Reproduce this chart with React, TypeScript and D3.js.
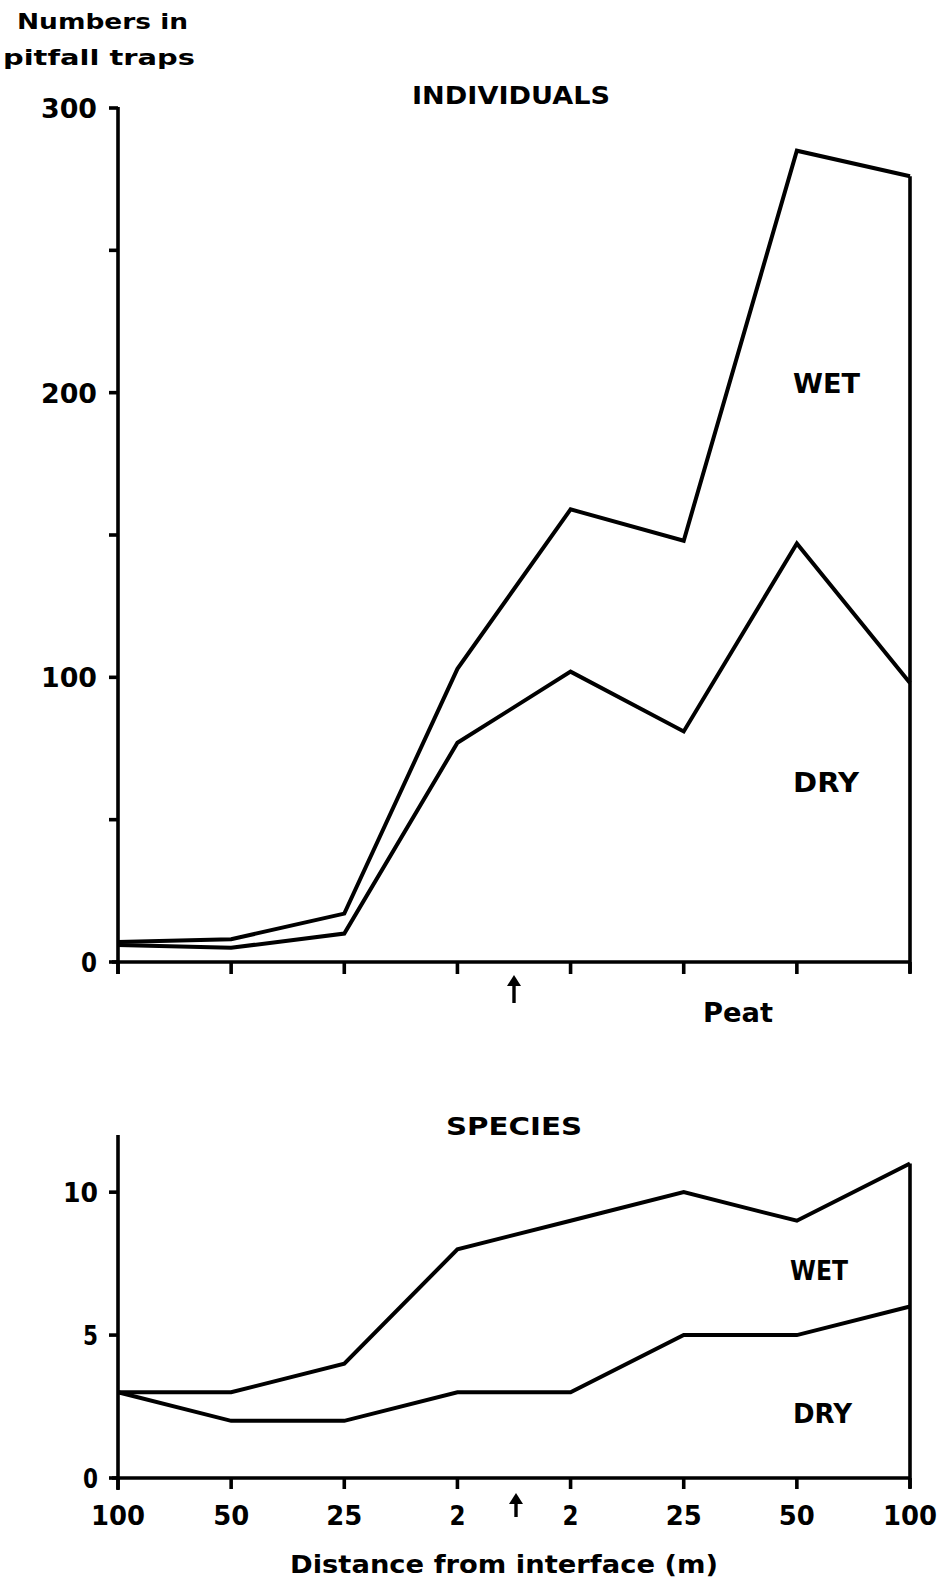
import React from "react";
import * as d3 from "d3";

const positions = ["100", "50", "25", "2", "2", "25", "50", "100"];
const individualsWet = [7, 8, 17, 103, 159, 148, 285, 276];
const individualsDry = [6, 5, 10, 77, 102, 81, 147, 98];
const speciesWet = [3, 3, 4, 8, 9, 10, 9, 11];
const speciesDry = [3, 2, 2, 3, 3, 5, 5, 6];
const indTicks = [0, 50, 100, 150, 200, 250, 300];
const indTickLabels = [0, 100, 200, 300];
const spTicks = [0, 5, 10];

const FONT = "'DejaVu Sans', 'Liberation Sans', sans-serif";

export default function App() {
  const idx = positions.map((_, i) => i);
  const x = d3.scalePoint<number>().domain(idx).range([118, 910]);
  const yTop = d3.scaleLinear().domain([0, 300]).range([962, 108]);
  const yBot = d3.scaleLinear().domain([0, 12]).range([1478, 1135]);

  const lineTop = d3
    .line<number>()
    .x((_, i) => x(i) as number)
    .y((d) => yTop(d));
  const lineBot = d3
    .line<number>()
    .x((_, i) => x(i) as number)
    .y((d) => yBot(d));

  const stroke = "#000";
  const lw = 4;
  const aw = 3.6;
  const x0 = x(0) as number;
  const xN = x(positions.length - 1) as number;
  const arrowX = ((x(3) as number) + (x(4) as number)) / 2;

  const Arrow = ({ cx, y1, y2 }: { cx: number; y1: number; y2: number }) => (
    <g>
      <line x1={cx} x2={cx} y1={y1 + 6} y2={y2} stroke={stroke} strokeWidth={3.4} />
      <path d={`M${cx},${y1} L${cx - 7},${y1 + 11} L${cx + 7},${y1 + 11} Z`} fill={stroke} />
    </g>
  );

  const txt = (s: string, xx: number, yy: number, size: number, len?: number, anchor = "start") => (
    <text
      x={xx}
      y={yy}
      fontSize={size}
      fontWeight="bold"
      fontFamily={FONT}
      textAnchor={anchor}
      textLength={len}
      lengthAdjust={len ? "spacingAndGlyphs" : undefined}
      fill="#000"
    >
      {s}
    </text>
  );

  return (
    <svg
      width={951}
      height={1582}
      style={{ position: "absolute", left: 0, top: 0, background: "#fff" }}
    >
      <rect width={951} height={1582} fill="#fff" />
      {txt("Numbers in", 17, 29, 21, 171)}
      {txt("pitfall traps", 3, 65, 21, 192)}

      {/* TOP PANEL */}
      {txt("INDIVIDUALS", 412, 104, 24, 198)}
      <line x1={x0} x2={x0} y1={yTop(300) - 1} y2={yTop(0) + 12} stroke={stroke} strokeWidth={aw} />
      <line x1={x0 - 6} x2={xN} y1={yTop(0)} y2={yTop(0)} stroke={stroke} strokeWidth={aw} />
      <line x1={xN} x2={xN} y1={yTop(individualsWet[7])} y2={yTop(0) + 11} stroke={stroke} strokeWidth={aw} />
      {indTicks.map((t) => (
        <line key={"yt" + t} x1={x0 - 9} x2={x0} y1={yTop(t)} y2={yTop(t)} stroke={stroke} strokeWidth={aw} />
      ))}
      {indTickLabels.map((t) => (
        <text
          key={"yl" + t}
          x={97}
          y={yTop(t) + 10}
          fontSize={27}
          fontWeight="bold"
          fontFamily={FONT}
          textAnchor="end"
          textLength={t === 0 ? 16 : 56}
          lengthAdjust="spacingAndGlyphs"
        >
          {t}
        </text>
      ))}
      {idx.map((i) => (
        <line key={"xt" + i} x1={x(i)} x2={x(i)} y1={yTop(0)} y2={yTop(0) + 12} stroke={stroke} strokeWidth={aw} />
      ))}
      <path d={lineTop(individualsWet) || ""} fill="none" stroke={stroke} strokeWidth={lw} strokeLinejoin="miter" />
      <path d={lineTop(individualsDry) || ""} fill="none" stroke={stroke} strokeWidth={lw} strokeLinejoin="miter" />
      {txt("WET", 793, 393, 26, 67)}
      {txt("DRY", 793, 792, 26, 66)}
      <Arrow cx={arrowX} y1={975} y2={1003} />
      {txt("Peat", 703, 1022, 26, 70)}

      {/* BOTTOM PANEL */}
      {txt("SPECIES", 446, 1135, 24, 136)}
      <line x1={x0} x2={x0} y1={yBot(12)} y2={yBot(0) + 12} stroke={stroke} strokeWidth={aw} />
      <line x1={x0 - 6} x2={xN} y1={yBot(0)} y2={yBot(0)} stroke={stroke} strokeWidth={aw} />
      <line x1={xN} x2={xN} y1={yBot(speciesWet[7])} y2={yBot(0) + 10} stroke={stroke} strokeWidth={aw} />
      {spTicks.map((t) => (
        <line key={"syt" + t} x1={x0 - 9} x2={x0} y1={yBot(t)} y2={yBot(t)} stroke={stroke} strokeWidth={aw} />
      ))}
      {spTicks.map((t) => (
        <text
          key={"syl" + t}
          x={98}
          y={yBot(t) + 10}
          fontSize={27}
          fontWeight="bold"
          fontFamily={FONT}
          textAnchor="end"
          textLength={t === 10 ? 35 : 15}
          lengthAdjust="spacingAndGlyphs"
        >
          {t}
        </text>
      ))}
      {idx.map((i) => (
        <line key={"sxt" + i} x1={x(i)} x2={x(i)} y1={yBot(0)} y2={yBot(0) + 11} stroke={stroke} strokeWidth={aw} />
      ))}
      {positions.map((p, i) => (
        <text
          key={"sxl" + i}
          x={x(i)}
          y={1525}
          fontSize={27}
          fontWeight="bold"
          fontFamily={FONT}
          textAnchor="middle"
          textLength={p.length === 3 ? 54 : p.length === 2 ? 36 : 16}
          lengthAdjust="spacingAndGlyphs"
        >
          {p}
        </text>
      ))}
      <path d={lineBot(speciesWet) || ""} fill="none" stroke={stroke} strokeWidth={lw} />
      <path d={lineBot(speciesDry) || ""} fill="none" stroke={stroke} strokeWidth={lw} />
      {txt("WET", 790, 1280, 26, 58)}
      {txt("DRY", 793, 1423, 26, 59)}
      <Arrow cx={arrowX + 2} y1={1493} y2={1517} />
      {txt("Distance from interface (m)", 290, 1573, 25, 428)}
    </svg>
  );
}
